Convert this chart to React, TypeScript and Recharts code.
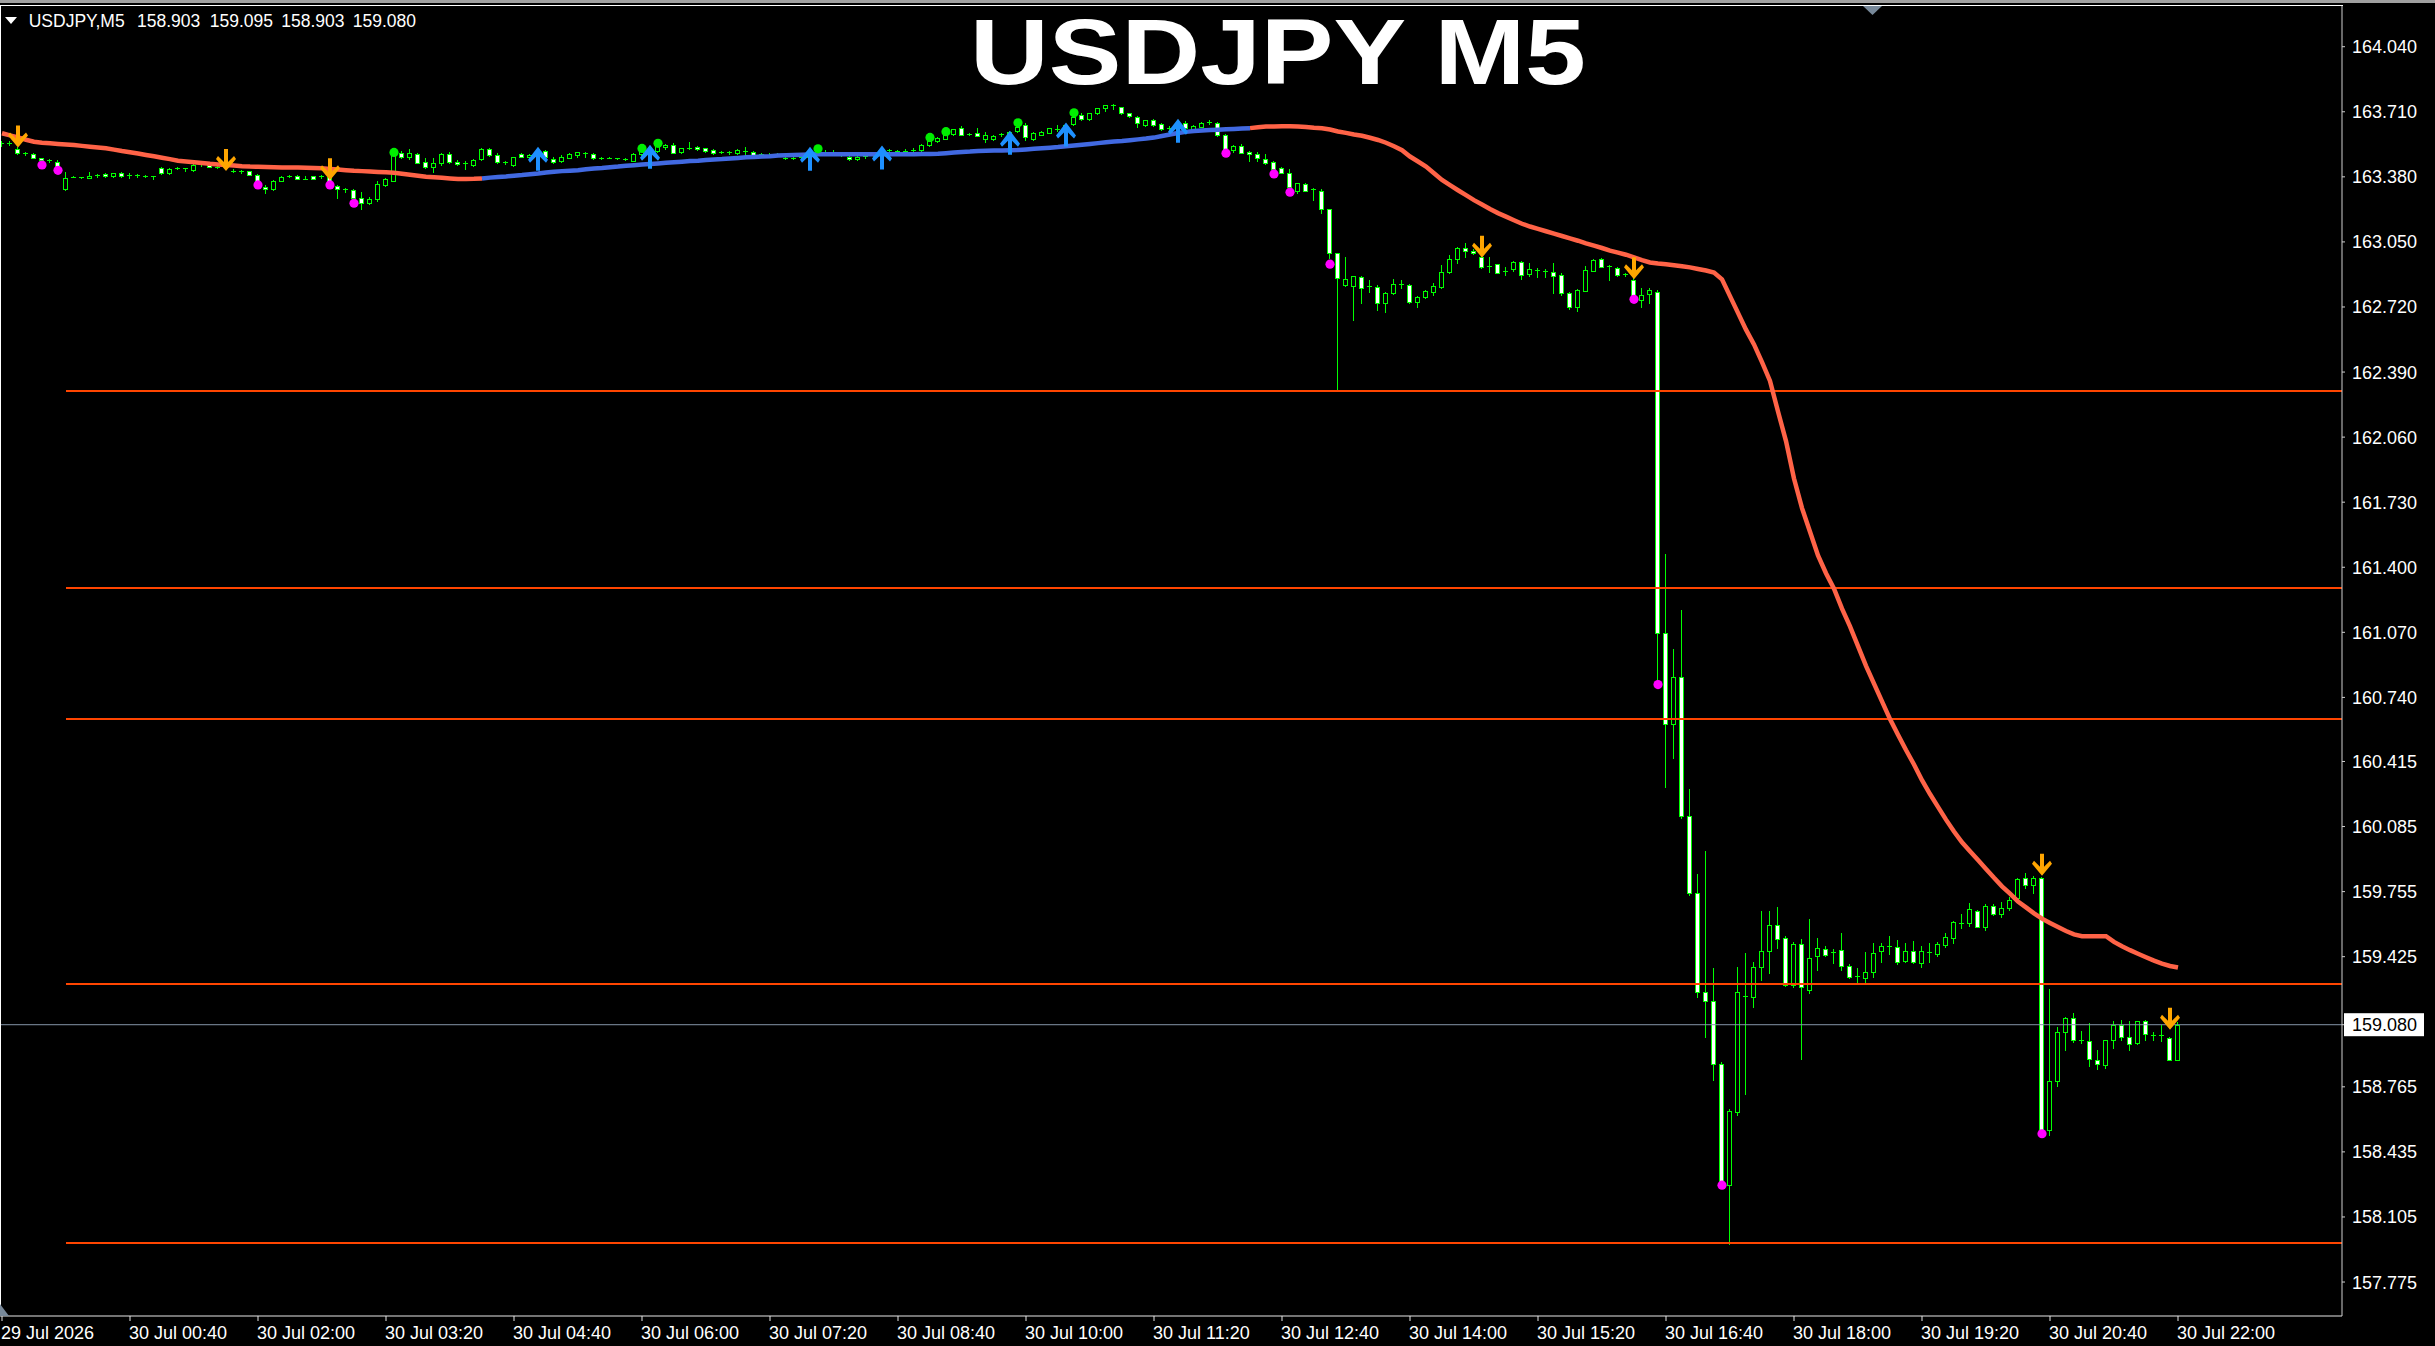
import React from 'react';
import { ComposedChart, Bar, Line, Scatter, XAxis, YAxis, ReferenceLine } from 'recharts';

const W = 2435;
const H = 1346;
const FONT = '"Liberation Sans", Arial, sans-serif';

// M5 bars, one tuple per bar: [open, high, low, close]
const ohlc: number[][] = [
  [163.545, 163.560, 163.535, 163.552], [163.552, 163.562, 163.540, 163.550], [163.519, 163.533, 163.498, 163.502],
  [163.500, 163.508, 163.490, 163.498], [163.494, 163.499, 163.476, 163.477], [163.474, 163.478, 163.462, 163.466],
  [163.466, 163.472, 163.457, 163.463], [163.457, 163.466, 163.430, 163.435], [163.316, 163.406, 163.314, 163.376],
  [163.380, 163.383, 163.378, 163.379], [163.377, 163.380, 163.374, 163.376], [163.376, 163.405, 163.376, 163.384],
  [163.385, 163.395, 163.380, 163.389], [163.392, 163.398, 163.380, 163.383], [163.383, 163.399, 163.378, 163.397],
  [163.398, 163.404, 163.380, 163.383], [163.385, 163.398, 163.376, 163.387], [163.387, 163.395, 163.380, 163.386],
  [163.386, 163.389, 163.381, 163.384], [163.383, 163.386, 163.370, 163.380], [163.427, 163.432, 163.395, 163.398],
  [163.398, 163.425, 163.396, 163.418], [163.420, 163.430, 163.418, 163.427], [163.424, 163.426, 163.412, 163.423],
  [163.415, 163.448, 163.412, 163.440], [163.440, 163.452, 163.436, 163.445], [163.441, 163.445, 163.430, 163.432],
  [163.430, 163.440, 163.424, 163.428], [163.430, 163.440, 163.425, 163.435], [163.412, 163.420, 163.405, 163.411],
  [163.410, 163.417, 163.400, 163.409], [163.408, 163.412, 163.388, 163.390], [163.387, 163.393, 163.355, 163.359],
  [163.330, 163.338, 163.300, 163.316], [163.316, 163.365, 163.312, 163.359], [163.360, 163.383, 163.357, 163.381],
  [163.383, 163.390, 163.378, 163.384], [163.384, 163.388, 163.368, 163.371], [163.371, 163.385, 163.367, 163.369],
  [163.383, 163.386, 163.368, 163.369], [163.381, 163.390, 163.374, 163.382], [163.378, 163.382, 163.345, 163.350],
  [163.334, 163.340, 163.275, 163.318], [163.316, 163.322, 163.305, 163.313], [163.313, 163.318, 163.270, 163.272],
  [163.272, 163.305, 163.215, 163.246], [163.245, 163.278, 163.240, 163.268], [163.268, 163.357, 163.260, 163.345],
  [163.340, 163.372, 163.335, 163.367], [163.360, 163.505, 163.358, 163.495], [163.500, 163.510, 163.475, 163.480],
  [163.480, 163.520, 163.470, 163.500], [163.496, 163.502, 163.450, 163.452], [163.453, 163.475, 163.425, 163.428],
  [163.428, 163.474, 163.406, 163.448], [163.448, 163.502, 163.440, 163.496], [163.496, 163.505, 163.452, 163.454],
  [163.457, 163.465, 163.440, 163.446], [163.445, 163.462, 163.418, 163.451], [163.441, 163.470, 163.436, 163.465],
  [163.469, 163.525, 163.465, 163.519], [163.519, 163.525, 163.488, 163.491], [163.491, 163.500, 163.450, 163.454],
  [163.454, 163.462, 163.445, 163.455], [163.440, 163.483, 163.436, 163.479], [163.498, 163.502, 163.480, 163.482],
  [163.482, 163.495, 163.475, 163.490], [163.490, 163.510, 163.480, 163.505], [163.509, 163.515, 163.481, 163.483],
  [163.470, 163.480, 163.452, 163.455], [163.460, 163.490, 163.455, 163.482], [163.477, 163.500, 163.474, 163.495],
  [163.490, 163.508, 163.480, 163.507], [163.500, 163.508, 163.480, 163.499], [163.497, 163.502, 163.472, 163.474],
  [163.476, 163.482, 163.470, 163.477], [163.478, 163.482, 163.474, 163.476], [163.475, 163.478, 163.468, 163.473],
  [163.470, 163.477, 163.463, 163.469], [163.462, 163.500, 163.460, 163.495], [163.495, 163.515, 163.490, 163.510],
  [163.510, 163.520, 163.500, 163.512], [163.512, 163.540, 163.505, 163.535], [163.529, 163.545, 163.520, 163.540],
  [163.544, 163.550, 163.500, 163.502], [163.504, 163.528, 163.500, 163.524], [163.525, 163.558, 163.519, 163.523],
  [163.532, 163.536, 163.515, 163.519], [163.524, 163.528, 163.505, 163.512], [163.515, 163.520, 163.498, 163.502],
  [163.504, 163.512, 163.500, 163.505], [163.505, 163.512, 163.498, 163.504], [163.502, 163.522, 163.498, 163.515],
  [163.510, 163.530, 163.498, 163.512], [163.507, 163.512, 163.490, 163.492], [163.495, 163.500, 163.485, 163.490],
  [163.490, 163.502, 163.484, 163.493], [163.492, 163.500, 163.484, 163.495], [163.478, 163.485, 163.468, 163.476],
  [163.476, 163.483, 163.470, 163.474], [163.474, 163.485, 163.468, 163.480], [163.480, 163.500, 163.475, 163.496],
  [163.496, 163.515, 163.490, 163.510], [163.505, 163.516, 163.495, 163.503], [163.503, 163.515, 163.496, 163.500],
  [163.498, 163.505, 163.488, 163.490], [163.482, 163.488, 163.465, 163.469], [163.469, 163.485, 163.466, 163.482],
  [163.482, 163.490, 163.474, 163.485], [163.485, 163.495, 163.480, 163.490], [163.490, 163.500, 163.482, 163.495],
  [163.515, 163.522, 163.508, 163.518], [163.511, 163.516, 163.505, 163.512], [163.510, 163.520, 163.505, 163.511],
  [163.510, 163.525, 163.505, 163.514], [163.515, 163.548, 163.512, 163.541], [163.539, 163.565, 163.536, 163.563],
  [163.561, 163.580, 163.555, 163.578], [163.573, 163.600, 163.570, 163.594], [163.597, 163.625, 163.594, 163.622],
  [163.626, 163.636, 163.593, 163.594], [163.596, 163.602, 163.590, 163.597], [163.603, 163.630, 163.585, 163.588],
  [163.573, 163.605, 163.558, 163.590], [163.571, 163.590, 163.568, 163.587], [163.594, 163.600, 163.585, 163.596],
  [163.596, 163.615, 163.590, 163.608], [163.610, 163.640, 163.605, 163.634], [163.642, 163.654, 163.566, 163.580],
  [163.571, 163.607, 163.566, 163.600], [163.594, 163.614, 163.590, 163.608], [163.602, 163.630, 163.600, 163.627],
  [163.620, 163.642, 163.615, 163.625], [163.625, 163.650, 163.620, 163.645], [163.648, 163.685, 163.645, 163.685],
  [163.693, 163.704, 163.668, 163.671], [163.671, 163.705, 163.668, 163.702], [163.705, 163.730, 163.700, 163.727],
  [163.727, 163.745, 163.712, 163.744], [163.744, 163.747, 163.725, 163.740], [163.732, 163.736, 163.700, 163.702],
  [163.702, 163.706, 163.686, 163.688], [163.685, 163.690, 163.631, 163.651], [163.642, 163.670, 163.638, 163.667],
  [163.668, 163.673, 163.640, 163.643], [163.648, 163.655, 163.620, 163.621], [163.621, 163.640, 163.610, 163.630],
  [163.630, 163.648, 163.620, 163.640], [163.655, 163.663, 163.623, 163.626], [163.625, 163.642, 163.620, 163.637],
  [163.635, 163.660, 163.632, 163.655], [163.655, 163.668, 163.648, 163.656], [163.655, 163.660, 163.585, 163.592],
  [163.592, 163.598, 163.512, 163.516], [163.514, 163.540, 163.505, 163.537], [163.537, 163.546, 163.500, 163.503],
  [163.505, 163.510, 163.460, 163.494], [163.494, 163.508, 163.462, 163.474], [163.470, 163.496, 163.445, 163.449],
  [163.455, 163.460, 163.420, 163.420], [163.425, 163.430, 163.400, 163.401], [163.401, 163.418, 163.313, 163.327],
  [163.310, 163.350, 163.300, 163.347], [163.342, 163.350, 163.308, 163.310], [163.313, 163.322, 163.265, 163.316],
  [163.307, 163.317, 163.195, 163.215], [163.215, 163.218, 162.967, 162.992], [162.992, 162.996, 162.300, 162.866],
  [162.832, 162.975, 162.825, 162.860], [162.827, 162.878, 162.654, 162.877], [162.874, 162.878, 162.739, 162.818],
  [162.822, 162.858, 162.798, 162.824], [162.823, 162.830, 162.705, 162.739], [162.738, 162.795, 162.692, 162.793],
  [162.790, 162.860, 162.785, 162.835], [162.836, 162.857, 162.815, 162.834], [162.830, 162.836, 162.740, 162.744],
  [162.744, 162.775, 162.720, 162.769], [162.769, 162.805, 162.765, 162.801], [162.798, 162.843, 162.781, 162.827],
  [162.823, 162.933, 162.815, 162.899], [162.899, 162.984, 162.891, 162.962], [162.962, 163.026, 162.942, 163.018],
  [163.018, 163.046, 162.975, 163.005], [163.005, 163.015, 162.990, 162.992], [162.975, 162.988, 162.920, 162.925],
  [162.930, 162.972, 162.895, 162.930], [162.936, 162.940, 162.890, 162.894], [162.900, 162.925, 162.880, 162.897],
  [162.911, 162.955, 162.905, 162.950], [162.950, 162.955, 162.860, 162.882], [162.886, 162.942, 162.877, 162.911],
  [162.905, 162.920, 162.874, 162.910], [162.900, 162.912, 162.874, 162.901], [162.896, 162.942, 162.790, 162.878],
  [162.883, 162.892, 162.780, 162.790], [162.790, 162.798, 162.710, 162.722], [162.722, 162.810, 162.702, 162.806],
  [162.803, 162.928, 162.800, 162.908], [162.905, 162.965, 162.900, 162.958], [162.962, 162.967, 162.925, 162.925],
  [162.929, 162.935, 162.857, 162.925], [162.917, 162.925, 162.875, 162.883], [162.886, 162.892, 162.876, 162.888],
  [162.856, 162.865, 162.775, 162.781], [162.755, 162.815, 162.722, 162.780], [162.784, 162.818, 162.740, 162.806],
  [162.798, 162.806, 160.830, 161.068], [161.068, 161.469, 160.284, 160.603], [160.603, 160.986, 160.434, 160.841],
  [160.841, 161.185, 160.130, 160.137], [160.137, 160.274, 159.740, 159.749], [159.749, 159.845, 159.218, 159.244],
  [159.244, 159.961, 159.017, 159.198], [159.198, 159.369, 158.799, 158.882], [158.882, 158.892, 158.270, 158.274],
  [158.269, 158.650, 157.968, 158.641], [158.636, 159.374, 158.620, 159.244], [159.225, 159.444, 158.727, 159.222],
  [159.218, 159.400, 159.172, 159.374], [159.374, 159.658, 159.309, 159.456], [159.456, 159.656, 159.340, 159.588],
  [159.588, 159.676, 159.469, 159.516], [159.521, 159.530, 159.275, 159.283], [159.283, 159.500, 159.270, 159.490],
  [159.490, 159.516, 158.908, 159.270], [159.257, 159.614, 159.240, 159.420], [159.426, 159.521, 159.355, 159.470],
  [159.465, 159.480, 159.430, 159.436], [159.450, 159.465, 159.392, 159.449], [159.457, 159.547, 159.356, 159.379],
  [159.379, 159.386, 159.318, 159.322], [159.325, 159.366, 159.289, 159.322], [159.315, 159.451, 159.289, 159.348],
  [159.348, 159.495, 159.322, 159.446], [159.452, 159.495, 159.400, 159.477], [159.476, 159.529, 159.438, 159.478],
  [159.472, 159.511, 159.387, 159.400], [159.405, 159.495, 159.398, 159.452], [159.452, 159.503, 159.392, 159.400],
  [159.394, 159.477, 159.374, 159.452], [159.448, 159.495, 159.400, 159.446], [159.438, 159.498, 159.430, 159.490],
  [159.485, 159.547, 159.472, 159.524], [159.521, 159.607, 159.496, 159.599], [159.596, 159.640, 159.568, 159.594],
  [159.594, 159.697, 159.581, 159.666], [159.658, 159.662, 159.573, 159.575], [159.573, 159.692, 159.560, 159.684],
  [159.684, 159.690, 159.638, 159.640], [159.640, 159.702, 159.625, 159.671], [159.671, 159.728, 159.663, 159.710],
  [159.723, 159.823, 159.718, 159.819], [159.822, 159.847, 159.775, 159.788], [159.788, 159.832, 159.749, 159.822],
  [159.822, 159.830, 158.535, 158.538], [158.546, 159.262, 158.520, 158.792], [158.792, 159.068, 158.771, 159.042],
  [159.042, 159.120, 158.952, 159.115], [159.115, 159.141, 158.993, 159.004], [159.002, 159.050, 158.986, 158.999],
  [158.999, 159.089, 158.869, 158.908], [158.903, 158.952, 158.856, 158.882], [158.875, 159.004, 158.861, 159.004],
  [159.004, 159.097, 158.960, 159.081], [159.081, 159.102, 159.004, 159.019], [159.017, 159.097, 158.952, 158.983],
  [158.985, 159.097, 158.980, 159.097], [159.097, 159.102, 159.004, 159.032], [159.027, 159.044, 159.000, 159.025],
  [159.025, 159.081, 158.999, 159.030], [159.011, 159.020, 158.900, 158.903], [158.903, 159.095, 158.903, 159.080],
];

// moving average, one value per bar
const maLine: number[] = [
  163.601, 163.590, 163.580, 163.568, 163.558, 163.553, 163.550, 163.547, 163.544, 163.541,
  163.537, 163.533, 163.529, 163.525, 163.518, 163.511, 163.505, 163.498, 163.491, 163.484,
  163.477, 163.470, 163.462, 163.458, 163.454, 163.450, 163.446, 163.443, 163.440, 163.437,
  163.434, 163.432, 163.431, 163.430, 163.429, 163.428, 163.428, 163.427, 163.426, 163.425,
  163.423, 163.420, 163.417, 163.414, 163.411, 163.409, 163.407, 163.405, 163.403, 163.401,
  163.396, 163.391, 163.386, 163.381, 163.378, 163.375, 163.372, 163.369, 163.369, 163.370,
  163.372, 163.376, 163.379, 163.382, 163.386, 163.389, 163.393, 163.397, 163.402, 163.406,
  163.409, 163.411, 163.413, 163.418, 163.422, 163.425, 163.429, 163.432, 163.436, 163.439,
  163.442, 163.445, 163.448, 163.451, 163.454, 163.457, 163.460, 163.462, 163.465, 163.468,
  163.470, 163.473, 163.476, 163.479, 163.481, 163.483, 163.485, 163.488, 163.490, 163.491,
  163.492, 163.493, 163.494, 163.494, 163.494, 163.494, 163.494, 163.494, 163.494, 163.494,
  163.494, 163.494, 163.495, 163.495, 163.495, 163.496, 163.496, 163.497, 163.500, 163.503,
  163.506, 163.508, 163.511, 163.512, 163.513, 163.514, 163.515, 163.516, 163.519, 163.522,
  163.525, 163.528, 163.531, 163.535, 163.539, 163.543, 163.547, 163.551, 163.555, 163.559,
  163.562, 163.566, 163.570, 163.574, 163.579, 163.587, 163.595, 163.602, 163.608, 163.612,
  163.615, 163.617, 163.619, 163.621, 163.623, 163.625, 163.627, 163.632, 163.635, 163.635,
  163.636, 163.636, 163.635, 163.633, 163.629, 163.626, 163.620, 163.610, 163.603, 163.595,
  163.588, 163.578, 163.567, 163.553, 163.535, 163.515, 163.483, 163.458, 163.432, 163.398,
  163.364, 163.338, 163.312, 163.287, 163.262, 163.240, 163.217, 163.196, 163.178, 163.160,
  163.142, 163.128, 163.116, 163.104, 163.092, 163.080, 163.068, 163.056, 163.043, 163.031,
  163.019, 163.006, 162.996, 162.985, 162.972, 162.958, 162.946, 162.941, 162.937, 162.932,
  162.927, 162.921, 162.913, 162.905, 162.895, 162.860, 162.775, 162.690, 162.605, 162.530,
  162.440, 162.345, 162.190, 162.040, 161.850, 161.700, 161.580, 161.460, 161.370, 161.291,
  161.190, 161.100, 161.000, 160.900, 160.810, 160.720, 160.630, 160.550, 160.473, 160.400,
  160.320, 160.250, 160.185, 160.120, 160.060, 160.005, 159.960, 159.915, 159.870, 159.825,
  159.782, 159.745, 159.705, 159.675, 159.645, 159.618, 159.596, 159.575, 159.555, 159.538,
  159.529, 159.529, 159.529, 159.529, 159.500, 159.478, 159.458, 159.440, 159.422, 159.405,
  159.390, 159.378, 159.370,
];
// bar range where the average is rising (blue)
const maUpFrom = 60;
const maUpTo = 156;

const sellArrows = [
  { i: 2, p: 163.584 }, { i: 28, p: 163.465 }, { i: 41, p: 163.418 }, { i: 185, p: 163.026 },
  { i: 204, p: 162.916 }, { i: 255, p: 159.891 }, { i: 271, p: 159.110 },
];
const buyArrows = [
  { i: 67, p: 163.472 }, { i: 81, p: 163.482 }, { i: 101, p: 163.472 }, { i: 110, p: 163.478 },
  { i: 126, p: 163.553 }, { i: 133, p: 163.595 }, { i: 147, p: 163.614 },
];
const bearDots = [
  { i: 5, p: 163.440 }, { i: 7, p: 163.413 }, { i: 32, p: 163.339 }, { i: 41, p: 163.339 },
  { i: 44, p: 163.246 }, { i: 153, p: 163.500 }, { i: 159, p: 163.395 }, { i: 161, p: 163.302 },
  { i: 166, p: 162.937 }, { i: 204, p: 162.759 }, { i: 207, p: 160.805 }, { i: 215, p: 158.266 },
  { i: 255, p: 158.527 },
];
const bullDots = [
  { i: 49, p: 163.504 }, { i: 80, p: 163.524 }, { i: 82, p: 163.550 }, { i: 102, p: 163.522 },
  { i: 116, p: 163.580 }, { i: 118, p: 163.609 }, { i: 127, p: 163.654 }, { i: 134, p: 163.705 },
];

const pivotLevels = [162.294, 161.295, 160.63, 159.287, 157.973];
const pivotFrom = 8;
const lastPrice = 159.08;
const headerQuote = ['158.903', '159.095', '158.903', '159.080'];

const priceTicks = [
  164.04, 163.71, 163.38, 163.05, 162.72, 162.39, 162.06, 161.73, 161.4, 161.07,
  160.74, 160.415, 160.085, 159.755, 159.425, 158.765, 158.435, 158.105, 157.775,
];
const timeTicks = [0, 16, 32, 48, 64, 80, 96, 112, 128, 144, 160, 176, 192, 208, 224, 240, 256, 272];
const timeLabels = [
  '29 Jul 2026', '30 Jul 00:40', '30 Jul 02:00', '30 Jul 03:20', '30 Jul 04:40', '30 Jul 06:00',
  '30 Jul 07:20', '30 Jul 08:40', '30 Jul 10:00', '30 Jul 11:20', '30 Jul 12:40', '30 Jul 14:00',
  '30 Jul 15:20', '30 Jul 16:40', '30 Jul 18:00', '30 Jul 19:20', '30 Jul 20:40', '30 Jul 22:00',
];

const xDomain: [number, number] = [-0.25, 292.5];
const yDomain: [number, number] = [157.6027, 164.2515];

const rows = ohlc.map(([o, h, l, c], i) => ({
  i, o, h, l, c,
  hl: [l, h],
  maDn: i <= maUpFrom || i >= maUpTo ? maLine[i] : null,
  maUp: i >= maUpFrom && i <= maUpTo ? maLine[i] : null,
}));

const GREEN = '#00ff00';

// wick + body drawn from the [low, high] bar geometry
const Candle = (props: any) => {
  const { x, y, width, height, payload } = props;
  if (x == null || y == null || !payload) return null;
  const { o, h, l, c } = payload;
  const top = Math.min(y, y + height);
  const span = Math.abs(height);
  const k = h > l ? span / (h - l) : 0;
  const px = Math.round(x + width / 2 - 0.5) + 0.5;
  const bTop = Math.round(top + (h - Math.max(o, c)) * k);
  const bBot = Math.round(top + (h - Math.min(o, c)) * k);
  const bear = c < o;
  return (
    <g shapeRendering="crispEdges">
      <line x1={px} x2={px} y1={Math.round(top)} y2={Math.round(top + span) + 1} stroke={GREEN} strokeWidth={1} />
      {bBot - bTop < 2 ? (
        <line x1={px - 2.5} x2={px + 2.5} y1={bTop + 0.5} y2={bTop + 0.5} stroke={GREEN} strokeWidth={1} />
      ) : (
        <rect x={px - 2} y={bTop + 0.5} width={4} height={bBot - bTop} fill={bear ? '#ffffff' : '#000000'} stroke={GREEN} strokeWidth={1} />
      )}
    </g>
  );
};

const SellArrow = ({ cx, cy }: any) => (
  <polygon
    points={`${cx - 2},${cy - 11} ${cx + 2},${cy - 11} ${cx + 2},${cy + 2} ${cx + 8},${cy - 4} ${cx + 10},${cy - 1} ${cx},${cy + 11} ${cx - 10},${cy - 1} ${cx - 8},${cy - 4} ${cx - 2},${cy + 2}`}
    fill="#ffa500"
  />
);

const BuyArrow = ({ cx, cy }: any) => (
  <polygon
    points={`${cx - 2},${cy + 12} ${cx + 2},${cy + 12} ${cx + 2},${cy - 2} ${cx + 8},${cy + 4} ${cx + 10},${cy + 1} ${cx},${cy - 12} ${cx - 10},${cy + 1} ${cx - 8},${cy + 4} ${cx - 2},${cy - 2}`}
    fill="#1e90ff"
  />
);

const Dot = (color: string) => ({ cx, cy }: any) => <circle cx={cx} cy={cy} r={4.6} fill={color} />;

const PriceTick = (props: any) => {
  const { x, y, payload } = props;
  const v = payload.value as number;
  if (v === lastPrice) {
    return (
      <g>
        <rect x={x - 8} y={y - 11.5} width={80} height={23} fill="#ffffff" />
        <text x={x} y={y + 6.5} fill="#000000" fontSize={18} fontFamily={FONT}>{v.toFixed(3)}</text>
      </g>
    );
  }
  return <text x={x} y={y + 6.5} fill="#ffffff" fontSize={18} fontFamily={FONT}>{v.toFixed(3)}</text>;
};

const TimeTick = (props: any) => {
  const { x, y, payload } = props;
  const k = timeTicks.indexOf(payload.value);
  return <text x={x - 1} y={y + 15.5} fill="#ffffff" fontSize={18} fontFamily={FONT}>{timeLabels[k]}</text>;
};

export default function App() {
  return (
    <div style={{ position: 'relative', width: W, height: H, background: '#000', overflow: 'hidden' }}>
      <style>{'html,body{margin:0;padding:0;background:#000;}'}</style>
      <ComposedChart width={W} height={H} data={rows} margin={{ top: 5, right: 0, bottom: 0, left: 0 }}>
        <XAxis
          type="number" dataKey="i" domain={xDomain} allowDataOverflow ticks={timeTicks} interval={0}
          height={30} axisLine={{ stroke: '#e6e6e6' }} tickLine={{ stroke: '#e6e6e6' }} tickSize={5} tick={<TimeTick />}
        />
        <YAxis
          orientation="right" type="number" domain={yDomain} allowDataOverflow ticks={[...priceTicks, lastPrice]}
          interval={0} width={93} axisLine={{ stroke: '#d0d0d0' }} tickLine={{ stroke: '#d0d0d0' }} tickSize={3}
          tickMargin={7} tick={<PriceTick />}
        />
        {pivotLevels.map((v) => (
          <ReferenceLine key={v} segment={[{ x: pivotFrom, y: v }, { x: xDomain[1], y: v }]} stroke="#ff4500" strokeWidth={2} />
        ))}
        <ReferenceLine y={lastPrice} stroke="#8595a8" strokeWidth={1} />
        <Bar dataKey="hl" barSize={5} shape={<Candle />} isAnimationActive={false} />
        <Line dataKey="maDn" stroke="#ff6347" strokeWidth={4.5} dot={false} activeDot={false} isAnimationActive={false} />
        <Line dataKey="maUp" stroke="#4169e1" strokeWidth={4.5} dot={false} activeDot={false} isAnimationActive={false} />
        <Scatter data={bearDots} dataKey="p" shape={Dot('#ff00ff')} isAnimationActive={false} />
        <Scatter data={bullDots} dataKey="p" shape={Dot('#00ee00')} isAnimationActive={false} />
        <Scatter data={sellArrows} dataKey="p" shape={(p: any) => <SellArrow {...p} />} isAnimationActive={false} />
        <Scatter data={buyArrows} dataKey="p" shape={(p: any) => <BuyArrow {...p} />} isAnimationActive={false} />
      </ComposedChart>
      <svg width={W} height={H} style={{ position: 'absolute', left: 0, top: 0, pointerEvents: 'none' }}>
        <rect x={0} y={0} width={W} height={3} fill="#a0a0a0" />
        <line x1={0} x2={2343} y1={5.5} y2={5.5} stroke="#ffffff" strokeWidth={1} />
        <line x1={0.5} x2={0.5} y1={5} y2={1316} stroke="#ffffff" strokeWidth={1} />
        <polygon points="1863,6 1882,6 1872.5,15" fill="#778899" />
        <polygon points="0,1304 9,1316 0,1316" fill="#778899" />
        <polygon points="5,17 17,17 11,24" fill="#ffffff" />
        <text x={28.7} y={26.5} fill="#ffffff" fontSize={17.5} fontFamily={FONT}>USDJPY,M5</text>
        {headerQuote.map((q, k) => (
          <text key={k} x={[137, 209.7, 281.3, 352.8][k]} y={26.5} fill="#ffffff" fontSize={17.5} fontFamily={FONT}>{q}</text>
        ))}
        <text
          x={970} y={84} fill="#ffffff" fontSize={92} fontWeight="bold" fontFamily={FONT}
          textLength={616} lengthAdjust="spacingAndGlyphs"
        >
          USDJPY M5
        </text>
      </svg>
    </div>
  );
}
